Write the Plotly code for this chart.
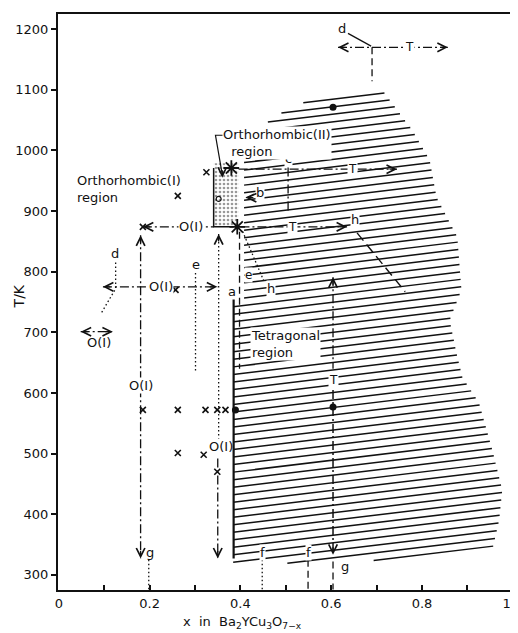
import plotly.graph_objects as go

# ---------------- data (x in Ba2YCu3O7-x, T in K) ----------------
# tetragonal (hatched) region outline
tet_x = [0.560, 0.714, 0.779, 0.817, 0.832, 0.878, 0.887, 0.861, 0.876, 0.889, 0.926,
         0.955, 0.977, 0.970, 0.955, 0.707, 0.384, 0.384, 0.408, 0.408, 0.439, 0.465]
tet_T = [1086, 1098, 1033, 984, 923, 857, 770, 720, 666, 626, 583,
         506, 440, 390, 341, 324, 316, 753, 753, 1000, 1017, 1053]
hatch_slope = 90.0      # K per unit x
hatch_step = 12.4       # K

# orthorhombic(II) stippled box
orth2_x = [0.341, 0.341, 0.396, 0.396]
orth2_T = [874, 979, 979, 874]

# measured points
cross_x = [0.325, 0.262, 0.185, 0.262, 0.323, 0.349, 0.367, 0.262, 0.319, 0.349, 0.185, 0.257]
cross_T = [964, 925, 572, 572, 572, 572, 572, 501, 498, 470, 874, 770]
dot_x = [0.604, 0.604, 0.389]
dot_T = [1071, 577, 572]
star_x = [0.393, 0.380]
star_T = [874, 971]
open_x = [0.352]
open_T = [920]

x_ticks = [0.0, 0.1, 0.2, 0.3, 0.4, 0.5, 0.6, 0.7, 0.8, 0.9, 1.0]
x_ticktext = ["0", "", "0.2", "", "0.4", "", "0.6", "", "0.8", "", "1.0"]
y_ticks = [300, 400, 500, 600, 700, 800, 900, 1000, 1100, 1200]

FONT = "DejaVu Sans"
INK = "#111111"
DASHDOT = "9px,3px,2px,3px"
DOT = "1.5px,2.5px"
DASH = "7px,4px"

fig = go.Figure()


def hatch_lines(px, py, slope, step):
    n = len(px)
    cs = [py[i] - slope * px[i] for i in range(n)]
    cmin, cmax = min(cs), max(cs)
    xs, ys = [], []
    c = cmin + step * 0.5
    while c < cmax:
        hits = []
        for i in range(n):
            x1, y1 = px[i], py[i]
            x2, y2 = px[(i + 1) % n], py[(i + 1) % n]
            f1 = y1 - c - slope * x1
            f2 = y2 - c - slope * x2
            if (f1 > 0) != (f2 > 0):
                t = f1 / (f1 - f2)
                hits.append(x1 + t * (x2 - x1))
        hits.sort()
        for k in range(0, len(hits) - 1, 2):
            xa, xb = hits[k], hits[k + 1]
            xs += [xa, xb, None]
            ys += [c + slope * xa, c + slope * xb, None]
        c += step
    return xs, ys


hx, hy = hatch_lines(tet_x, tet_T, hatch_slope, hatch_step)
fig.add_trace(go.Scatter(x=hx, y=hy, mode="lines", line=dict(color=INK, width=1.5),
                         hoverinfo="skip", showlegend=False))

# stippled orthorhombic(II) box
fig.add_trace(go.Scatter(x=orth2_x + [orth2_x[0]], y=orth2_T + [orth2_T[0]], mode="lines",
                         fill="toself", fillcolor="white",
                         fillpattern=dict(shape=".", size=4, solidity=0.35, fgcolor="#333", bgcolor="white"),
                         line=dict(width=0), hoverinfo="skip", showlegend=False))
fig.add_trace(go.Scatter(x=[orth2_x[1], orth2_x[0], 0.385], y=[orth2_T[1] - 8, orth2_T[0], orth2_T[0]],
                         mode="lines", line=dict(color=INK, width=1.5), showlegend=False, hoverinfo="skip"))


def seg(xs, ys, dash="solid", width=1.3):
    fig.add_trace(go.Scatter(x=xs, y=ys, mode="lines", line=dict(color=INK, width=width, dash=dash),
                             hoverinfo="skip", showlegend=False))


def head(x, y, d):
    off = {"left": (9, 0), "right": (-9, 0), "up": (0, 9), "down": (0, -9)}[d]
    fig.add_annotation(x=x, y=y, ax=off[0], ay=off[1], text="", showarrow=True,
                       arrowhead=5, arrowsize=1.3, arrowwidth=1.3, arrowcolor=INK)


def label(x, y, t, size=13, bg=None, xanchor="center"):
    fig.add_annotation(x=x, y=y, text=t, showarrow=False, xanchor=xanchor, yanchor="middle",
                       font=dict(family=FONT, size=size, color=INK),
                       bgcolor=bg, borderpad=0)


# upper T arrow (orthorhombic II -> tetragonal)
seg([0.396, 0.745], [969, 969], DASHDOT)
head(0.745, 969, "right")
label(0.646, 969, "T", 12, "white")
# lower T arrow
seg([0.400, 0.635], [874, 874], DASHDOT)
head(0.635, 874, "right")
label(0.514, 874, "T", 12, "white")
# O(I) arrow to the left at 874 K
seg([0.185, 0.341], [874, 874], DASHDOT)
head(0.185, 874, "left")
label(0.290, 874, "O(I)", 13, "white")
# vertical at x=0.18
seg([0.180, 0.180], [860, 327], DASHDOT)
head(0.180, 860, "up")
head(0.180, 327, "down")
label(0.180, 612, "O(I)", 13, "white")
label(0.200, 337, "g", 13)
seg([0.198, 0.198], [325, 276], DOT)
# O(I)x double arrow
seg([0.097, 0.349], [775, 775], DASHDOT)
head(0.097, 775, "left")
head(0.349, 775, "right")
label(0.224, 775, "O(I)", 13, "white")
# d dotted path
label(0.123, 830, "d", 13)
seg([0.125, 0.125, 0.092], [815, 772, 730], DOT)
# small O(I) double arrow
seg([0.048, 0.119], [701, 701], DASHDOT)
head(0.048, 701, "left")
head(0.119, 701, "right")
label(0.088, 684, "O(I)", 13)
# e dotted
label(0.301, 812, "e", 13)
seg([0.301, 0.301], [798, 633], DOT)
# vertical at x=0.352
seg([0.352, 0.352], [862, 525], DOT)
head(0.352, 862, "up")
label(0.358, 511, "O(I)", 13)
seg([0.350, 0.350], [492, 327], DASHDOT)
head(0.350, 327, "down")
# thick boundary line
seg([0.385, 0.385], [757, 327], "solid", 2.2)
# dashed boundary above
seg([0.398, 0.398], [866, 640], DASH, 1.3)
label(0.381, 768, "a", 13, "white")
label(0.417, 795, "e", 12, "white")
# h dotted and h dashed
seg([0.405, 0.452], [866, 784], DOT)
label(0.468, 772, "h", 13, "white")
label(0.653, 886, "h", 13, "white")
seg([0.657, 0.763], [864, 767], "10px,5px", 1.4)
# c line
label(0.505, 986, "c", 13, "white")
seg([0.505, 0.505], [972, 901], DASHDOT)
# b label
label(0.444, 930, "b", 13, "white")
seg([0.430, 0.412], [928, 922], "solid", 1.2)
head(0.412, 922, "left")
# vertical T line at x=0.604
seg([0.604, 0.604], [791, 640], DASHDOT)
head(0.604, 791, "up")
label(0.604, 622, "T", 12, "white")
seg([0.604, 0.604], [605, 333], DASHDOT, 1.5)
head(0.604, 333, "down")
seg([0.604, 0.604], [322, 276], DASH)
label(0.631, 313, "g", 13)
# f lines
label(0.448, 337, "f", 13, "white")
seg([0.448, 0.448], [325, 276], DOT)
label(0.549, 337, "f", 13, "white")
seg([0.549, 0.549], [325, 276], DASH)
# top right T arrow
seg([0.615, 0.857], [1170, 1170], DASHDOT)
head(0.615, 1170, "left")
head(0.857, 1170, "right")
label(0.773, 1170, "T", 12, "white")
seg([0.690, 0.690], [1170, 1114], DASH)
label(0.624, 1201, "d", 13)
seg([0.637, 0.688], [1193, 1172], "solid", 1.2)
# orthorhombic(II) leader
seg([0.378, 0.345, 0.360], [1025, 1025, 960], "solid", 1.2)
head(0.360, 955, "down")

# markers
fig.add_trace(go.Scatter(x=cross_x, y=cross_T, mode="markers",
                         marker=dict(symbol="x-thin-open", size=6, color=INK, line=dict(color=INK, width=1.6)),
                         hoverinfo="skip", showlegend=False))
fig.add_trace(go.Scatter(x=dot_x, y=dot_T, mode="markers",
                         marker=dict(symbol="circle", size=7, color=INK),
                         hoverinfo="skip", showlegend=False))
fig.add_trace(go.Scatter(x=star_x, y=star_T, mode="markers",
                         marker=dict(symbol="asterisk-open", size=13, color=INK, line=dict(color=INK, width=1.8)),
                         hoverinfo="skip", showlegend=False))
fig.add_trace(go.Scatter(x=open_x, y=open_T, mode="markers",
                         marker=dict(symbol="circle-open", size=5, color=INK, line=dict(color=INK, width=1.2)),
                         hoverinfo="skip", showlegend=False))

# region labels
fig.add_annotation(x=0.035, y=936, text="Orthorhombic(I)<br>region", showarrow=False,
                   xanchor="left", yanchor="middle", align="left",
                   font=dict(family=FONT, size=13, color=INK))
fig.add_annotation(x=0.360, y=1013, text="Orthorhombic(II)<br>  region", showarrow=False,
                   xanchor="left", yanchor="middle", align="left", bgcolor="white", borderpad=0,
                   font=dict(family=FONT, size=13, color=INK))
fig.add_annotation(x=0.421, y=680, text="Tetragonal<br>region", showarrow=False,
                   xanchor="left", yanchor="middle", align="left", bgcolor="white", borderpad=0,
                   font=dict(family=FONT, size=13, color=INK))

# axis titles
fig.add_annotation(xref="paper", yref="paper", x=0.403, y=-0.057, xanchor="center", yanchor="middle",
                   text="x  in  Ba<sub>2</sub>YCu<sub>3</sub>O<sub>7−x</sub>",
                   showarrow=False, font=dict(family=FONT, size=13, color=INK))
fig.add_annotation(xref="paper", yref="paper", x=-0.085, y=0.51, xanchor="center", yanchor="middle",
                   text="T/K", textangle=-90,
                   showarrow=False, font=dict(family=FONT, size=14, color=INK))

fig.update_xaxes(range=[-0.002, 1.005], tickvals=x_ticks, ticktext=x_ticktext,
                 ticks="inside", ticklen=5, tickwidth=1.5, tickcolor=INK,
                 showline=True, linewidth=2, linecolor=INK, mirror=True,
                 showgrid=False, zeroline=False, automargin=False, ticklabeloverflow="allow",
                 tickfont=dict(family=FONT, size=13, color=INK))
fig.update_yaxes(range=[275, 1225], tickvals=y_ticks,
                 ticks="outside", ticklen=5, tickwidth=1.5, tickcolor=INK,
                 showline=True, linewidth=2, linecolor=INK, mirror=True,
                 showgrid=False, zeroline=False, automargin=False,
                 tickfont=dict(family=FONT, size=13, color=INK))
# page body has an 8px default margin; size the figure so the plot area lands where the reference's does
fig.update_layout(width=510, height=625, margin=dict(l=50, r=3, t=6, b=43, autoexpand=False),
                  plot_bgcolor="white", paper_bgcolor="white", showlegend=False)

fig.write_html("out.html")
